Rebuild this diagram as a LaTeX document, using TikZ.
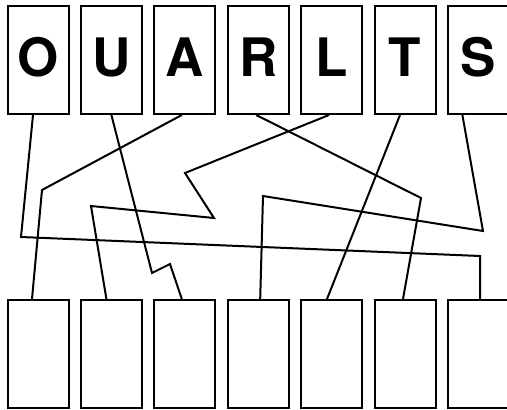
\documentclass[tikz,border=0pt]{standalone}
\usepackage{fontspec}
\setmainfont{TeX Gyre Heros}

\begin{document}
\begin{tikzpicture}[x=1pt, y=-1pt,
    card/.style={
        draw, line width=2pt, inner sep=0pt,
        minimum width=61pt, minimum height=108pt
    },
    letter/.style={
        card, font=\fontsize{53}{53}\selectfont\bfseries,
        text height=38pt, text depth=6pt
    },
    wire/.style={line width=2pt, line join=miter}
]
\useasboundingbox (0,0) rectangle (507,410);

\node[letter] (o) at (38,   60) {O};
\node[letter] (u) at (111.4,60) {U};
\node[letter] (a) at (184.8,60) {A};
\node[letter] (r) at (258.2,60) {R};
\node[letter] (l) at (331.6,60) {L};
\node[letter] (t) at (405,  60) {T};
\node[letter] (s) at (478.4,60) {S};

\node[card] (b1) at (38,   354) {};
\node[card] (b2) at (111.4,354) {};
\node[card] (b3) at (184.8,354) {};
\node[card] (b4) at (258.2,354) {};
\node[card] (b5) at (331.6,354) {};
\node[card] (b6) at (405,  354) {};
\node[card] (b7) at (478.4,354) {};

\draw[wire] ([xshift=-5pt]o.south)   -- (21,237) -- (480,256) -- ([xshift=1.6pt]b7.north);
\draw[wire] (u.south)                -- (152,273) -- (170,264) -- ([xshift=-3pt]b3.north);
\draw[wire] ([xshift=-3pt]a.south)   -- (42,190) -- ([xshift=-6pt]b1.north);
\draw[wire] ([xshift=-2pt]r.south)   -- (421,198) -- ([xshift=-2pt]b6.north);
\draw[wire] ([xshift=-2.6pt]l.south) -- (185,173) -- (214,218) -- (91,206) -- ([xshift=-5pt]b2.north);
\draw[wire] ([xshift=-5pt]t.south)   -- ([xshift=-4.6pt]b5.north);
\draw[wire] ([xshift=-16pt]s.south)  -- (483,231) -- (263,196) -- ([xshift=2pt]b4.north);

\end{tikzpicture}
\end{document}
